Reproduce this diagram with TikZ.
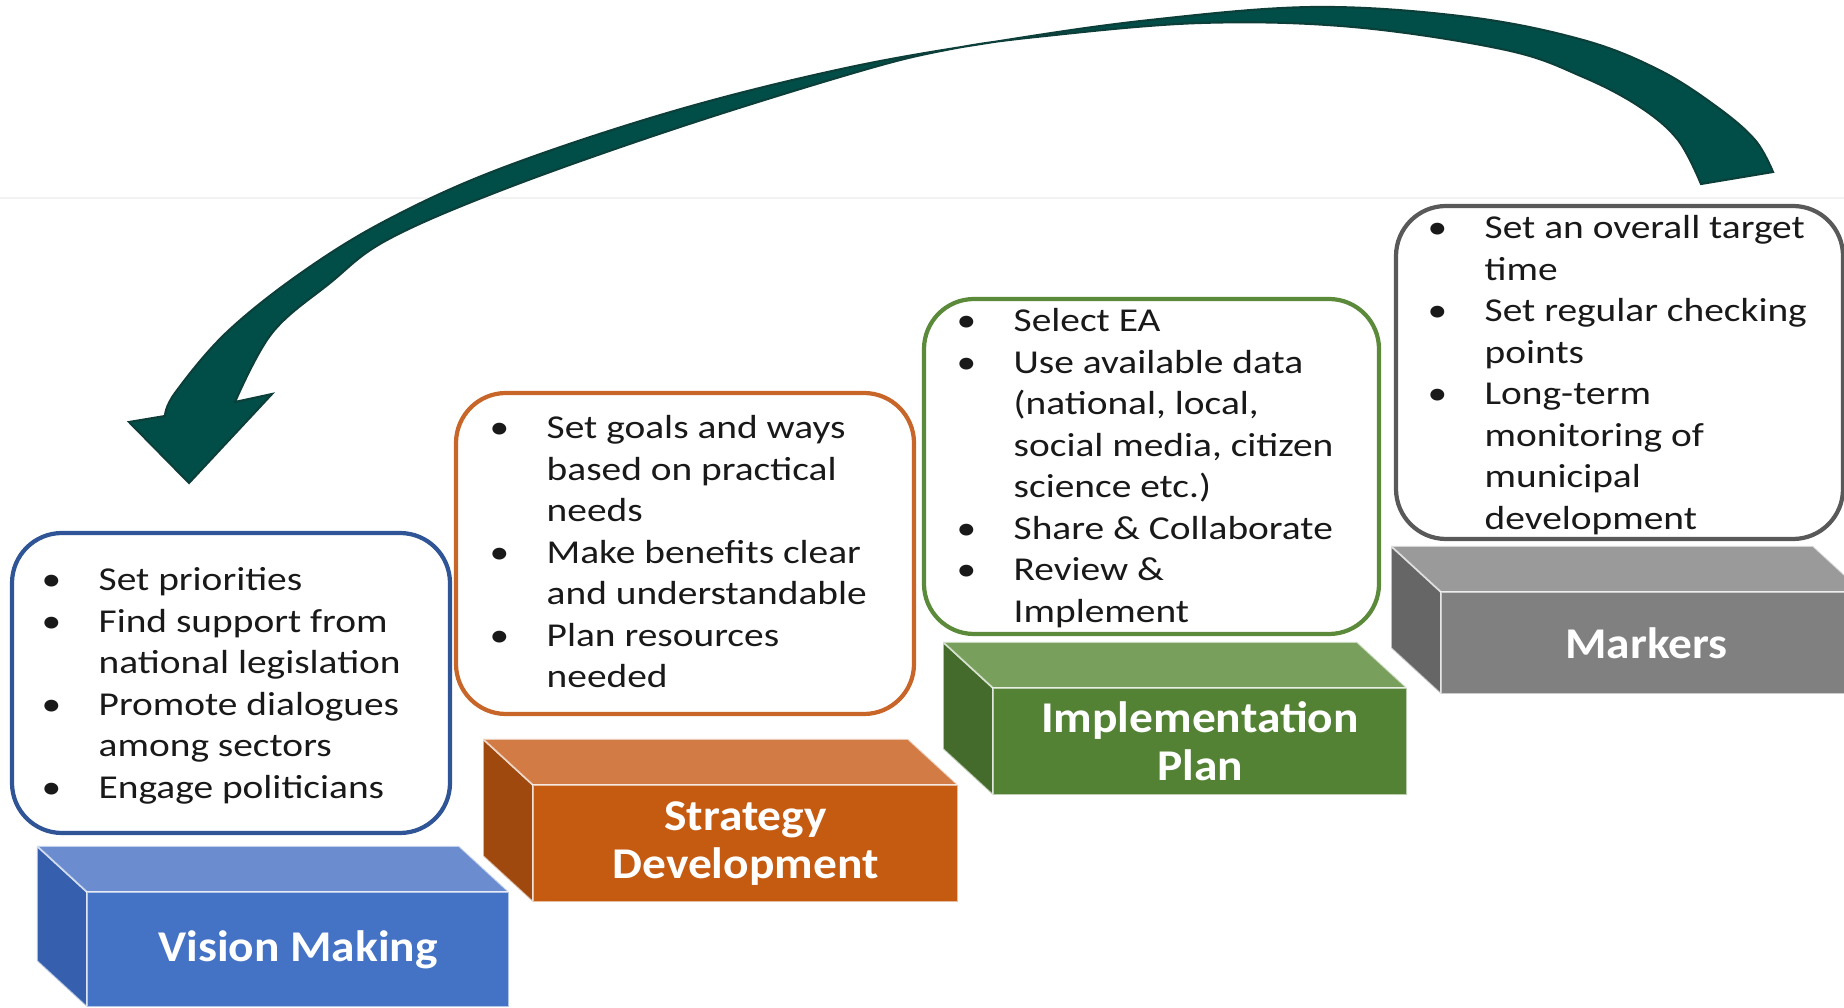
\documentclass[tikz,border=0pt]{standalone}
\usepackage{fontspec}
\setmainfont{Carlito}[FakeStretch=1.18]
\newfontfamily\stepfont{Carlito}[FakeStretch=1.08]
\usepackage{xcolor}

\definecolor{vmfront}{HTML}{4472C4}
\definecolor{vmtop}{HTML}{6B8DD0}
\definecolor{vmside}{HTML}{3660AE}
\definecolor{vmline}{HTML}{2F5597}
\definecolor{sdfront}{HTML}{C55A11}
\definecolor{sdtop}{HTML}{D27B45}
\definecolor{sdside}{HTML}{A0490F}
\definecolor{sdline}{HTML}{C8662A}
\definecolor{ipfront}{HTML}{548235}
\definecolor{iptop}{HTML}{78A05C}
\definecolor{ipside}{HTML}{446B2B}
\definecolor{ipline}{HTML}{5A8A3A}
\definecolor{mkfront}{HTML}{808080}
\definecolor{mktop}{HTML}{9A9A9A}
\definecolor{mkside}{HTML}{666666}
\definecolor{mkline}{HTML}{595959}
\definecolor{loopteal}{HTML}{014E48}
\definecolor{loopedge}{HTML}{0D3F3A}

\tikzset{
  note/.style={draw, fill=white, rounded corners=0.5cm, line width=1.2pt, inner sep=0pt},
  notetext/.style={anchor=base west, inner sep=0pt, text=black!90,
    font=\fontsize{9.5}{11.8}\selectfont},
  steplabel/.style={text=white, align=center,
    font=\stepfont\bfseries\fontsize{12.5}{13.7}\selectfont},
  blockedge/.style={draw=white, draw opacity=0.6, line width=0.5pt},
  turnarrow/.style={fill=loopteal, draw=loopedge, line width=0.6pt}
}

\begin{document}
\begin{tikzpicture}
\useasboundingbox (0,0) rectangle (18.44,10.07);
\clip (0,0) rectangle (18.44,10.07);
\draw[black!5, line width=0.5pt] (0,8.09) -- (18.44,8.09);

\foreach \nm/\x/\y/\w/\h/\col/\lbl in {
  vision/0.87/0/4.22/1.15/vm/{Vision Making},
  strategy/5.33/1.05/4.25/1.17/sd/{Strategy\\Development},
  implementation/9.93/2.12/4.14/1.07/ip/{Implementation\\Plan},
  markers/14.41/3.13/4.22/1.02/mk/{Markers}
}{
  \filldraw[fill=\col side, blockedge] (\x,\y) -- (\x,\y+\h) -- (\x-0.5,\y+\h+0.46) -- (\x-0.5,\y+0.46) -- cycle;
  \filldraw[fill=\col top, blockedge] (\x,\y+\h) -- (\x+\w,\y+\h) -- (\x+\w-0.5,\y+\h+0.46) -- (\x-0.5,\y+\h+0.46) -- cycle;
  \filldraw[fill=\col front, blockedge] (\x,\y) rectangle (\x+\w,\y+\h);
  \node[steplabel] (\nm) at ({\x+\w/2},{\y+\h/2}) {\lbl};
}

\node[note, draw=vmline, minimum width=4.38cm, minimum height=3.00cm] (visionnote) at (2.31,3.24) {};
\node[note, draw=sdline, minimum width=4.58cm, minimum height=3.21cm] (strategynote) at (6.85,4.535) {};
\node[note, draw=ipline, minimum width=4.55cm, minimum height=3.35cm] (implementationnote) at (11.515,5.405) {};
\node[note, draw=mkline, minimum width=4.47cm, minimum height=3.33cm] (markersnote) at (16.195,6.345) {};

\node[notetext] (visiontext) at (0.41,4.16) {\begin{tabular}[t]{@{}p{0.57cm}@{}l@{}}
\textbullet & Set priorities\\
\textbullet & Find support from\\
 & national legislation\\
\textbullet & Promote dialogues\\
 & among sectors\\
\textbullet & Engage politicians
\end{tabular}};
\node[notetext] (strategytext) at (4.89,5.68) {\begin{tabular}[t]{@{}p{0.57cm}@{}l@{}}
\textbullet & Set goals and ways\\
 & based on practical\\
 & needs\\
\textbullet & Make benefits clear\\
 & and understandable\\
\textbullet & Plan resources\\
 & needed
\end{tabular}};
\node[notetext] (implementationtext) at (9.56,6.75) {\begin{tabular}[t]{@{}p{0.57cm}@{}l@{}}
\textbullet & Select EA\\
\textbullet & Use available data\\
 & (national, local,\\
 & social media, citizen\\
 & science etc.)\\
\textbullet & Share \& Collaborate\\
\textbullet & Review \&\\
 & Implement
\end{tabular}};
\node[notetext] (markerstext) at (14.27,7.68) {\begin{tabular}[t]{@{}p{0.57cm}@{}l@{}}
\textbullet & Set an overall target\\
 & time\\
\textbullet & Set regular checking\\
 & points\\
\textbullet & Long-term\\
 & monitoring of\\
 & municipal\\
 & development
\end{tabular}};

\filldraw[turnarrow] plot[smooth,tension=0.6] coordinates {(1.65,5.91) (1.75,6.14) (2.26,6.74) (3.01,7.34) (3.87,7.87) (5.02,8.39) (6.74,8.96) (8.46,9.39) (10.00,9.66) (11.50,9.87) (13.15,10.00) (14.68,9.90) (15.83,9.67) (16.59,9.37) (17.17,9.00) (17.55,8.67) (17.73,8.35)}
  -- plot[smooth,tension=0.6] coordinates {(17.01,8.23) (16.78,8.67) (16.40,9.00) (15.83,9.30) (15.06,9.57) (13.53,9.80) (12.00,9.84) (10.36,9.70) (9.46,9.57) (8.57,9.35) (6.74,8.78) (5.02,8.17) (3.87,7.67) (3.30,7.24) (2.72,6.74) (2.35,6.05)}
  -- (2.72,6.13) -- (1.89,5.24) -- (1.29,5.85) -- cycle;
\end{tikzpicture}
\end{document}
